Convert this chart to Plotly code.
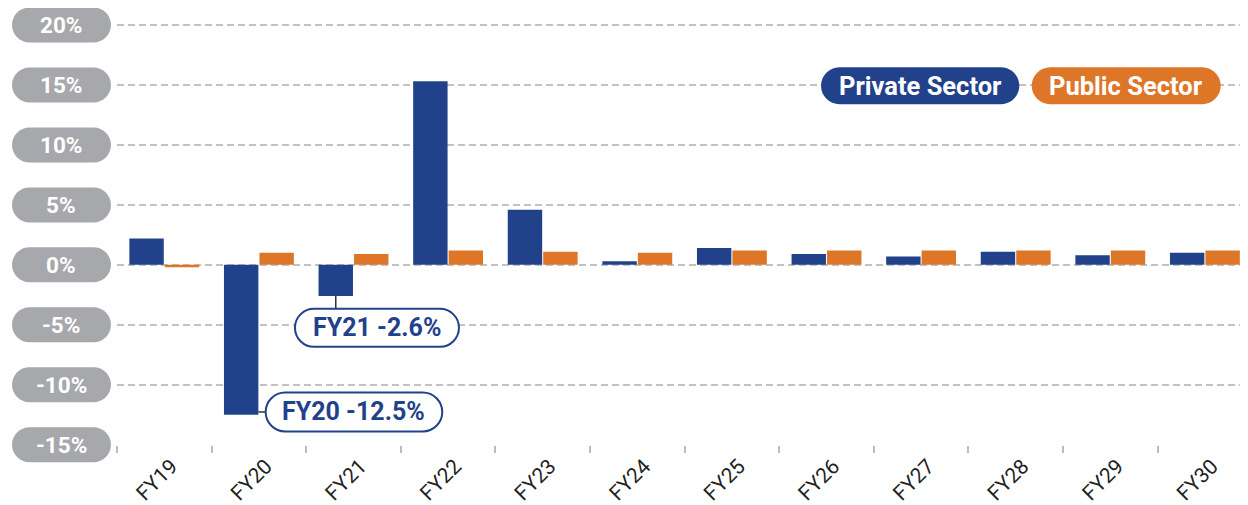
import plotly.graph_objects as go

categories = ["FY19", "FY20", "FY21", "FY22", "FY23", "FY24", "FY25", "FY26", "FY27", "FY28", "FY29", "FY30"]
private_sector = [2.2, -12.5, -2.6, 15.3, 4.6, 0.3, 1.4, 0.9, 0.7, 1.1, 0.8, 1.0]
public_sector = [-0.2, 1.0, 0.9, 1.2, 1.1, 1.0, 1.2, 1.2, 1.2, 1.2, 1.2, 1.2]
y_ticks = [20, 15, 10, 5, 0, -5, -10, -15]
y_tick_labels = ["20%", "15%", "10%", "5%", "0%", "-5%", "-10%", "-15%"]
series_names = ["Private Sector", "Public Sector"]
callouts = [("FY21", -2.6), ("FY20", -12.5)]

BLUE = "#21418B"
ORANGE = "#DE7628"
GRAY_PILL = "#A7A8AB"
GRID = "#C2C2C2"
FONT = "Roboto"

# page body has an 8px default margin, so compensate
W, H = 1240, 505
ML, MR, MT, MB = 109, 0, 11, 68
Y_MIN, Y_MAX = -15.02, 20.5
CAT_PX = 94.6
X_MIN = -0.5
X_MAX = X_MIN + (W - ML - MR) / CAT_PX
BARGAP = 0.25
SLOT = (1 - BARGAP) / 2


def pill_path(left, right, top, bottom):
    """Rounded (stadium) path in pixel offsets, y positive up."""
    r = (top - bottom) / 2.0
    k = 0.5523 * r
    cy = top - r
    return (
        f"M{left + r},{top} L{right - r},{top} "
        f"C{right - r + k},{top} {right},{cy + k} {right},{cy} "
        f"C{right},{cy - k} {right - r + k},{bottom} {right - r},{bottom} "
        f"L{left + r},{bottom} "
        f"C{left + r - k},{bottom} {left},{cy - k} {left},{cy} "
        f"C{left},{cy + k} {left + r - k},{top} {left + r},{top} Z"
    )


fig = go.Figure()
fig.add_trace(go.Bar(x=categories, y=private_sector, name=series_names[0],
                     marker=dict(color=BLUE, line=dict(width=0))))
fig.add_trace(go.Bar(x=categories, y=public_sector, name=series_names[1],
                     marker=dict(color=ORANGE, line=dict(width=0))))

shapes = []
annotations = []

# y-axis pill labels
for v, lab in zip(y_ticks, y_tick_labels):
    frac = (v - Y_MIN) / (Y_MAX - Y_MIN)
    shapes.append(dict(type="path", xref="paper", yref="paper",
                       xsizemode="pixel", ysizemode="pixel",
                       xanchor=0, yanchor=frac,
                       path=pill_path(-105, -6, 17.5, -17.5),
                       fillcolor=GRAY_PILL, line=dict(width=0), layer="above"))
    annotations.append(dict(xref="paper", yref="paper", x=0, y=frac, xshift=-56, yshift=0,
                            text=f"<b>{lab}</b>", showarrow=False,
                            xanchor="center", yanchor="middle",
                            font=dict(family=FONT, size=22.5, color="white")))

# custom legend pills (sitting on the 15% gridline)
legend_specs = [(series_names[0], BLUE, -427, -228.7), (series_names[1], ORANGE, -216.3, -27.3)]
leg_frac = (15 - Y_MIN) / (Y_MAX - Y_MIN)
for name, col, l, r in legend_specs:
    shapes.append(dict(type="path", xref="paper", yref="paper",
                       xsizemode="pixel", ysizemode="pixel",
                       xanchor=1, yanchor=leg_frac,
                       path=pill_path(l, r, 17.7, -19.3),
                       fillcolor=col, line=dict(width=0), layer="above"))
    annotations.append(dict(xref="paper", yref="paper", x=1, y=leg_frac,
                            xshift=(l + r) / 2, yshift=-0.8,
                            text=f"<b>{name}</b>", showarrow=False,
                            xanchor="center", yanchor="middle",
                            font=dict(family=FONT, size=25.5, color="white")))

# callouts for the private sector dips
blue_offset = -SLOT / 2
half_bar_px = SLOT * 0.97 * CAT_PX / 2
for cat, val in callouts:
    xi = categories.index(cat) + blue_offset
    label = f"<b>{cat} {val:.1f}%</b>"
    if cat == "FY21":
        conn = "M0,0 L0,-12.8"
        box = (-40.8, 123.2, -12.8, -50.8)
    else:
        conn = f"M{half_bar_px},2.8 L{24.5},2.8"
        box = (24.5, 201.1, 22.3, -16.7)
    shapes.append(dict(type="path", xref="x", yref="y",
                       xsizemode="pixel", ysizemode="pixel",
                       xanchor=xi, yanchor=val, path=conn,
                       line=dict(color="#333333", width=1.5), layer="above"))
    shapes.append(dict(type="path", xref="x", yref="y",
                       xsizemode="pixel", ysizemode="pixel",
                       xanchor=xi, yanchor=val, path=pill_path(*box),
                       fillcolor="white", line=dict(color=BLUE, width=2), layer="above"))
    annotations.append(dict(xref="x", yref="y", x=xi, y=val,
                            xshift=(box[0] + box[1]) / 2, yshift=(box[2] + box[3]) / 2,
                            text=label, showarrow=False,
                            xanchor="center", yanchor="middle",
                            font=dict(family=FONT, size=25, color=BLUE)))

fig.update_layout(
    width=W, height=H,
    margin=dict(l=ML, r=MR, t=MT, b=MB, pad=0),
    paper_bgcolor="white", plot_bgcolor="white",
    barmode="group", bargap=BARGAP, bargroupgap=0.03,
    showlegend=False,
    shapes=shapes, annotations=annotations,
    font=dict(family=FONT),
    xaxis=dict(range=[X_MIN, X_MAX], showgrid=False, zeroline=False, showline=False,
               tickson="boundaries", ticks="outside", ticklen=7, tickwidth=1.5,
               tickcolor="#BDBDBD", tickangle=-45,
               ticklabelstandoff=4, ticklabelshift=7,
               tickfont=dict(family=FONT, size=21, color="#222222")),
    yaxis=dict(range=[Y_MIN, Y_MAX], tickvals=y_ticks, showticklabels=False,
               showgrid=True, gridcolor=GRID, gridwidth=2, griddash="7px,4px",
               zeroline=False, showline=False, ticks=""),
)

fig.write_html("out.html")
